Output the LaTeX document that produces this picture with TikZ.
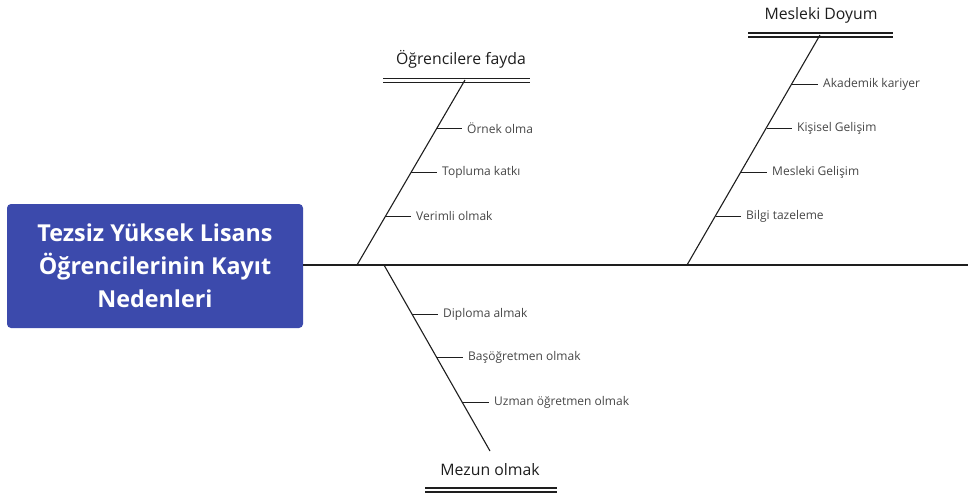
\documentclass[tikz,border=0pt]{standalone}
\usepackage{fontspec}
\setmainfont{Open Sans}
\definecolor{boxblue}{RGB}{60,74,172}
\definecolor{linec}{RGB}{30,30,30}
\definecolor{subtxt}{RGB}{70,70,70}
\definecolor{headtxt}{RGB}{30,30,30}
\begin{document}
\begin{tikzpicture}[x=1pt,y=-1pt,
  bone/.style={draw=linec,line width=1.1pt},
  tick/.style={draw=linec,line width=1pt},
  subl/.style={anchor=west,inner xsep=5pt,inner ysep=1pt,font=\fontsize{12}{14}\selectfont,text=subtxt},
  headl/.style={font=\fontsize{15.8}{18}\selectfont,text=headtxt,inner sep=1pt},
  dbl/.style={draw=linec,line width=1.2pt}]
\useasboundingbox (0,0) rectangle (968,496);
% main box
\node[fill=boxblue,rounded corners=4pt,minimum width=296pt,minimum height=124pt,
  text=white,font=\fontsize{23.3}{33}\selectfont\bfseries,align=center,inner sep=0pt]
  (main) at (155,266) {Tezsiz Yüksek Lisans\\Öğrencilerinin Kayıt\\Nedenleri};
% spine
\coordinate (sR) at (968,265);
\draw[bone] (main.east |- sR) -- (sR);
% branch 1
\coordinate (b1s) at (357,265);
\coordinate (b1e) at (465,80);
\draw[bone] (b1s) -- (b1e);
\coordinate (h1a) at (383,78.5); \coordinate (h1b) at (530,78.5);
\coordinate (h1c) at (383,82.5); \coordinate (h1d) at (530,82.5);
\draw[dbl] (h1a) -- (h1b); \draw[dbl] (h1c) -- (h1d);
\node[headl] (h1) at (461,59) {Öğrencilere fayda};
\coordinate (t11) at (437,128); \node[subl] (n11) at (462,128) {Örnek olma}; \draw[tick] (t11) -- (n11.west);
\coordinate (t12) at (411,172); \node[subl] (n12) at (437,172) {Topluma katkı}; \draw[tick] (t12) -- (n12.west);
\coordinate (t13) at (385.6,216); \node[subl] (n13) at (411,216) {Verimli olmak}; \draw[tick] (t13) -- (n13.west);
% branch 2
\coordinate (b2s) at (687,265);
\coordinate (b2e) at (820,35);
\draw[bone] (b2s) -- (b2e);
\coordinate (h2a) at (748,33); \coordinate (h2b) at (893,33);
\coordinate (h2c) at (748,37); \coordinate (h2d) at (893,37);
\draw[dbl] (h2a) -- (h2b); \draw[dbl] (h2c) -- (h2d);
\node[headl] (h2) at (821,15) {Mesleki Doyum};
\coordinate (t21) at (792,84); \node[subl] (n21) at (818,84) {Akademik kariyer}; \draw[tick] (t21) -- (n21.west);
\coordinate (t22) at (766.6,128); \node[subl] (n22) at (792,128) {Kişisel Gelişim}; \draw[tick] (t22) -- (n22.west);
\coordinate (t23) at (741,172); \node[subl] (n23) at (767,172) {Mesleki Gelişim}; \draw[tick] (t23) -- (n23.west);
\coordinate (t24) at (715.5,216); \node[subl] (n24) at (741,216) {Bilgi tazeleme}; \draw[tick] (t24) -- (n24.west);
% branch 3
\coordinate (b3s) at (384,265);
\coordinate (b3e) at (490,451);
\draw[bone] (b3s) -- (b3e);
\coordinate (h3a) at (425,488); \coordinate (h3b) at (557,488);
\coordinate (h3c) at (425,492); \coordinate (h3d) at (557,492);
\draw[dbl] (h3a) -- (h3b); \draw[dbl] (h3c) -- (h3d);
\node[headl] (h3) at (490,470) {Mezun olmak};
\coordinate (t31) at (411.8,314); \node[subl] (n31) at (438,314) {Diploma almak}; \draw[tick] (t31) -- (n31.west);
\coordinate (t32) at (436,357); \node[subl] (n32) at (463,357) {Başöğretmen olmak}; \draw[tick] (t32) -- (n32.west);
\coordinate (t33) at (461.7,402); \node[subl] (n33) at (489,402) {Uzman öğretmen olmak}; \draw[tick] (t33) -- (n33.west);
\end{tikzpicture}
\end{document}
